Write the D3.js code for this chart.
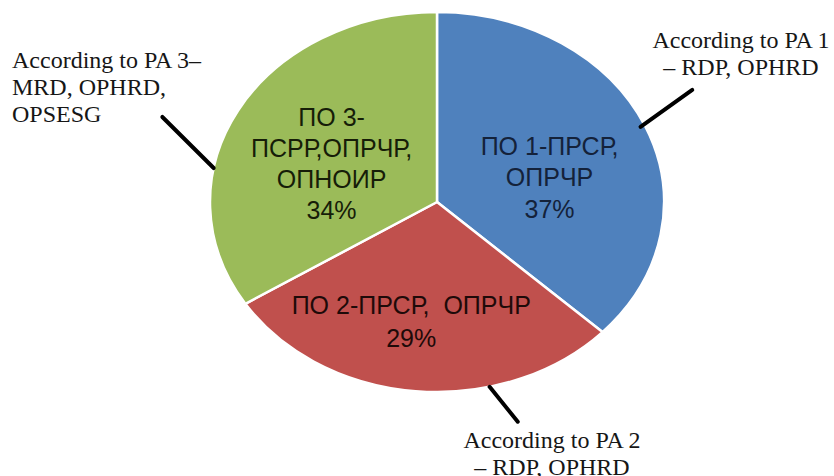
<!DOCTYPE html>
<html>
<head>
<meta charset="utf-8">
<script src="https://cdn.jsdelivr.net/npm/d3@7"></script>
<style>
  html, body { margin: 0; padding: 0; background: #fff; }
  svg { display: block; }
</style>
</head>
<body>
<svg id="chart"></svg>
<script>
// data
const sliceKeys   = ['PO1', 'PO2', 'PO3'];
const sliceValues = [37, 29, 34];
const sliceLines  = [
  ['ПО 1-ПРСР,', 'ОПРЧР', '37%'],
  ['ПО 2-ПРСР,  ОПРЧР', '29%'],
  ['ПО 3-', 'ПСРР,ОПРЧР,', 'ОПНОИР', '34%']
];
const calloutLines = [
  ['According to PA 1', '– RDP, OPHRD'],
  ['According to PA 2', '– RDP, OPHRD'],
  ['According to PA 3–', 'MRD, OPHRD,', 'OPSESG']
];

const W = 834, H = 476;
const cx = 437, cy = 202, rx = 227, ry = 190;
const R = ry;

const colors = d3.scaleOrdinal().domain(sliceKeys).range(['#4f81bd', '#c0504d', '#9bbb59']);
const textColors = d3.scaleOrdinal().domain(sliceKeys).range(['#14223a', '#1e0a09', '#161d08']);

const svg = d3.select('#chart').attr('width', W).attr('height', H)
  .attr('viewBox', `0 0 ${W} ${H}`);

// point on the squashed pie: angle in degrees clockwise from top, rho as fraction of radius
function ell(deg, rho) {
  const a = deg * Math.PI / 180;
  return [cx + rx * rho * Math.sin(a), cy - ry * rho * Math.cos(a)];
}

const pie = d3.pie().sort(null).value(d => d)(sliceValues);
const arc = d3.arc().innerRadius(0).outerRadius(R);

const g = svg.append('g')
  .attr('transform', `translate(${cx},${cy}) scale(${rx / R},1)`);

g.selectAll('path')
  .data(pie)
  .join('path')
    .attr('d', arc)
    .attr('fill', (d, i) => colors(sliceKeys[i]))
    .attr('stroke', '#fff')
    .attr('stroke-width', 2.5)
    .attr('vector-effect', 'non-scaling-stroke')
    .attr('stroke-linejoin', 'round');

// labels inside the slices
const labelArc = d3.arc().innerRadius(R * 0.55).outerRadius(R * 0.55);
const nudge = [[-2, 17], [-14, 16], [4, 12]];
const lh = [31.5, 33, 31];
const fs = 25;

pie.forEach((d, i) => {
  const [x0, y0] = labelArc.centroid(d);
  const x = cx + x0 * rx / R + nudge[i][0];
  const y = cy + y0 + nudge[i][1];
  const lines = sliceLines[i];
  const t = svg.append('text')
    .attr('text-anchor', 'middle')
    .attr('font-family', '"Liberation Sans", Arial, sans-serif')
    .attr('font-size', fs)
    .attr('fill', textColors(sliceKeys[i]))
    .style('white-space', 'pre');
  lines.forEach((s, j) => {
    t.append('tspan')
      .attr('x', x)
      .attr('y', y + (j - (lines.length - 1) / 2) * lh[i] + fs * 0.35)
      .text(s);
  });
});

// leader lines (angle deg, rho) -> (angle deg, rho)
const leaders = [
  [[66.2, 0.98], [62.3, 1.27]],
  [[166.6, 1.0], [162.9, 1.21]],
  [[280.3, 1.0], [290.3, 1.29]]
];
svg.selectAll('line.leader')
  .data(leaders)
  .join('line')
    .attr('class', 'leader')
    .attr('x1', d => ell(...d[0])[0])
    .attr('y1', d => ell(...d[0])[1])
    .attr('x2', d => ell(...d[1])[0])
    .attr('y2', d => ell(...d[1])[1])
    .attr('stroke', '#000')
    .attr('stroke-width', 4)
    .attr('stroke-linecap', 'round');

// callout text
const callPos = [
  { x: 741, y: 48, lh: 27, anchor: 'middle' },
  { x: 552, y: 448, lh: 27, anchor: 'middle' },
  { x: 12, y: 68, lh: 27, anchor: 'start' }
];
calloutLines.forEach((lines, i) => {
  const p = callPos[i];
  const t = svg.append('text')
    .attr('text-anchor', p.anchor)
    .attr('font-family', '"Liberation Serif", "Times New Roman", serif')
    .attr('font-size', 24)
    .attr('fill', '#161616');
  lines.forEach((s, j) => {
    t.append('tspan').attr('x', p.x).attr('y', p.y + j * p.lh).text(s);
  });
});
</script>
</body>
</html>
